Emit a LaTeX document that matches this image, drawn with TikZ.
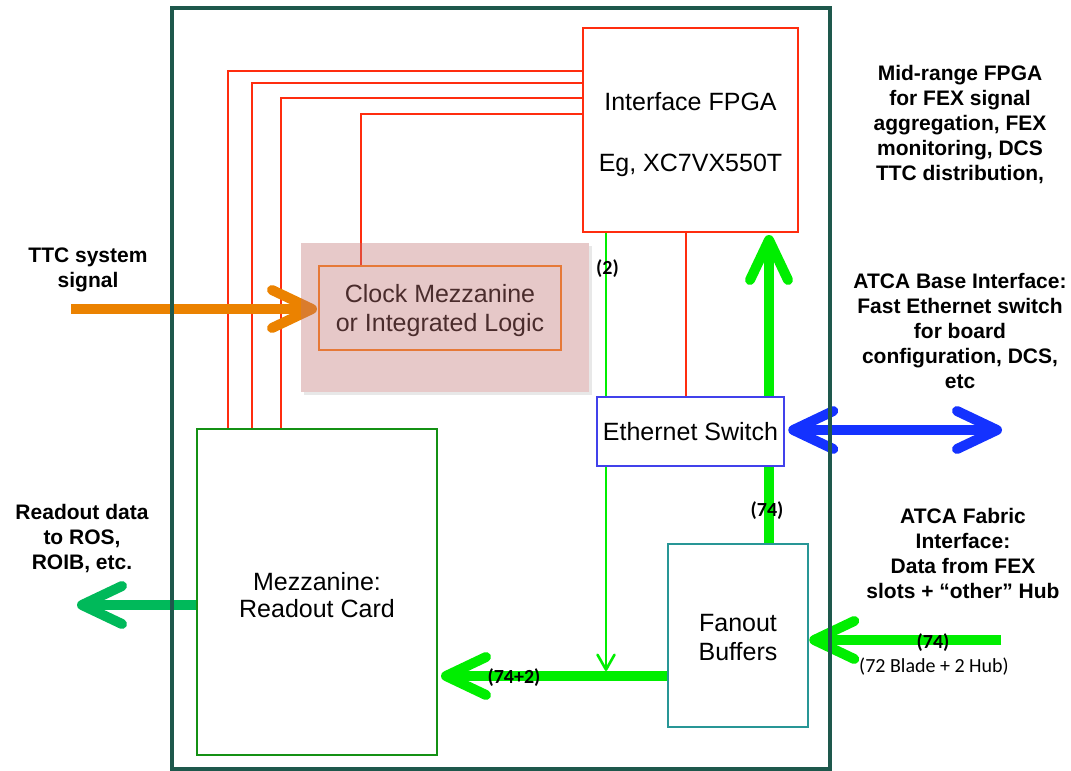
\documentclass[tikz,border=0pt]{standalone}
\usepackage{fontspec}
\setmainfont{Liberation Sans}
\newfontfamily\calibri{Carlito}
\usetikzlibrary{arrows.meta}
\pgfdeclarelayer{bg}\pgfdeclarelayer{fg}\pgfsetlayers{bg,main,fg}
\definecolor{frameC}{RGB}{30,88,76}
\definecolor{cred}{RGB}{255,45,15}
\definecolor{corange}{RGB}{255,125,20}
\definecolor{cttc}{RGB}{235,130,0}
\definecolor{cbright}{RGB}{0,238,0}
\definecolor{cdkgreen}{RGB}{20,145,20}
\definecolor{croarrow}{RGB}{0,185,90}
\definecolor{cteal}{RGB}{40,150,150}
\definecolor{cbluebox}{RGB}{65,65,235}
\definecolor{cblue}{RGB}{20,50,255}
\definecolor{cpink}{RGB}{192,115,115}
\begin{document}
\begin{tikzpicture}[x=1pt,y=-1pt,
  box/.style={draw, fill=white, line width=2pt, align=center, inner sep=0pt,
    font=\fontsize{25}{29}\selectfont},
  boxtext/.style={align=center, inner sep=0pt, font=\fontsize{25}{29}\selectfont},
  btxt/.style={align=center, inner sep=0pt, font=\bfseries\fontsize{21}{25}\selectfont},
  lbl/.style={inner sep=0pt, font=\calibri\bfseries\fontsize{20}{24}\selectfont},
  redl/.style={draw=cred, line width=2pt},
  fat/.style={line width=10pt, -{Straight Barb[length=40pt,width=38pt,round]}},
  thinarrow/.style={draw=cbright, line width=2.6pt, -{Straight Barb[length=15pt,width=17pt,round]}}
]
\useasboundingbox (0,0) rectangle (1071,771);

% ---------- nodes ----------
\node[box, draw=cred, minimum width=215pt, minimum height=204pt] (fpga) at (690.5,130) {};
\node[boxtext] (fpgatext) at (690.5,134.5) {Interface FPGA\\[32pt]Eg, XC7VX550T};
\node[box, draw=cbluebox, line width=2.5pt, minimum width=187pt, minimum height=69pt] (eth) at (690.5,431.5)
  {Ethernet Switch};
\node[box, draw=cdkgreen, minimum width=240pt, minimum height=326pt] (readout) at (317,592) {};
\node[boxtext, font=\fontsize{25}{27}\selectfont] (readouttext) at (317,595) {Mezzanine:\\Readout Card};
\node[box, draw=cteal, line width=2.5pt, minimum width=140pt, minimum height=183pt] (fanout) at (738,635.5) {};
\node[boxtext] (fanouttext) at (738,638) {Fanout\\Buffers};
\node[box, draw=corange, minimum width=242pt, minimum height=84pt] (clock) at (440,308) {};
\node[boxtext] (clocktext) at (440,311) {Clock Mezzanine\\or Integrated Logic};

\coordinate (thinend) at (606,671);
\coordinate (bluend) at (1002,430);
\coordinate (fabstart) at (1001,640);
\coordinate (roend) at (77,605);
\coordinate (ttcstart) at (71,309);

% ---------- connectors ----------
\begin{pgfonlayer}{bg}
  \draw[redl] (readout.north -| 228,0) |- (fpga.west |- 0,71);
  \draw[redl] (readout.north -| 252,0) |- (fpga.west |- 0,83);
  \draw[redl] (readout.north -| 281,0) |- (fpga.west |- 0,98);
  \draw[redl] (clock.north -| 361,0) |- (fpga.west |- 0,114);
  \draw[redl] (fpga.south -| 686,0) -- (eth.north -| 686,0);
  \draw[thinarrow] (fpga.south -| 606,0) -- (thinend);
  \draw[fat, draw=cbright, shorten >=3pt] (fanout.west |- 0,676) -- (readout.east |- 0,676);
  \draw[fat, draw=cbright, shorten >=2pt] (fanout.north -| 769,0) -- (fpga.south -| 769,0);
  \draw[draw=cblue, line width=10pt, {Straight Barb[length=40pt,width=38pt,round]}-{Straight Barb[length=40pt,width=38pt,round]}, shorten <=3pt]
    (eth.east |- 0,430) -- (bluend);
  \draw[fat, draw=cbright] (fabstart) -- (fanout.east |- 0,640);
  \draw[fat, draw=croarrow] (readout.west |- 0,605) -- (roend);
  \draw[fat, draw=cttc, shorten >=1pt] (ttcstart) -- (clock.west |- 0,309);
\end{pgfonlayer}

% translucent shaded panel over the clock block
\fill[gray, opacity=0.18] (304,392) rectangle (592,395);
\fill[gray, opacity=0.18] (589,246) rectangle (592,392);
\fill[cpink, opacity=0.39] (301,243) rectangle (589,392);

% ---------- foreground ----------
\begin{pgfonlayer}{fg}
  \node[draw=frameC, line width=4pt, minimum width=658pt, minimum height=761pt, inner sep=0pt] (board) at (501,388.5) {};
  \node[lbl] (l2) at (607.5,269) {(2)};
  \node[lbl] (l74a) at (767,511) {(74)};
  \node[lbl] (l742) at (514,678) {(74+2)};
  \node[lbl] (l74b) at (933,643) {(74)};
  \node[inner sep=0pt, font=\calibri\fontsize{20}{24}\selectfont] (lblade) at (934,667) {(72 Blade + 2 Hub)};
  \node[btxt] (t1) at (960,125) {Mid-range FPGA\\for FEX signal\\aggregation, FEX\\monitoring, DCS\\TTC distribution,};
  \node[btxt] (t2) at (960,331) {ATCA Base Interface:\\Fast Ethernet switch\\for board\\configuration, DCS,\\etc};
  \node[btxt] (t3) at (963,553) {ATCA Fabric\\Interface:\\Data from FEX\\slots + “other” Hub};
  \node[btxt] (t4) at (88,270) {TTC system\\signal};
  \node[btxt] (t5) at (82,539) {Readout data\\to ROS,\\ROIB, etc.};
\end{pgfonlayer}
\end{tikzpicture}
\end{document}
